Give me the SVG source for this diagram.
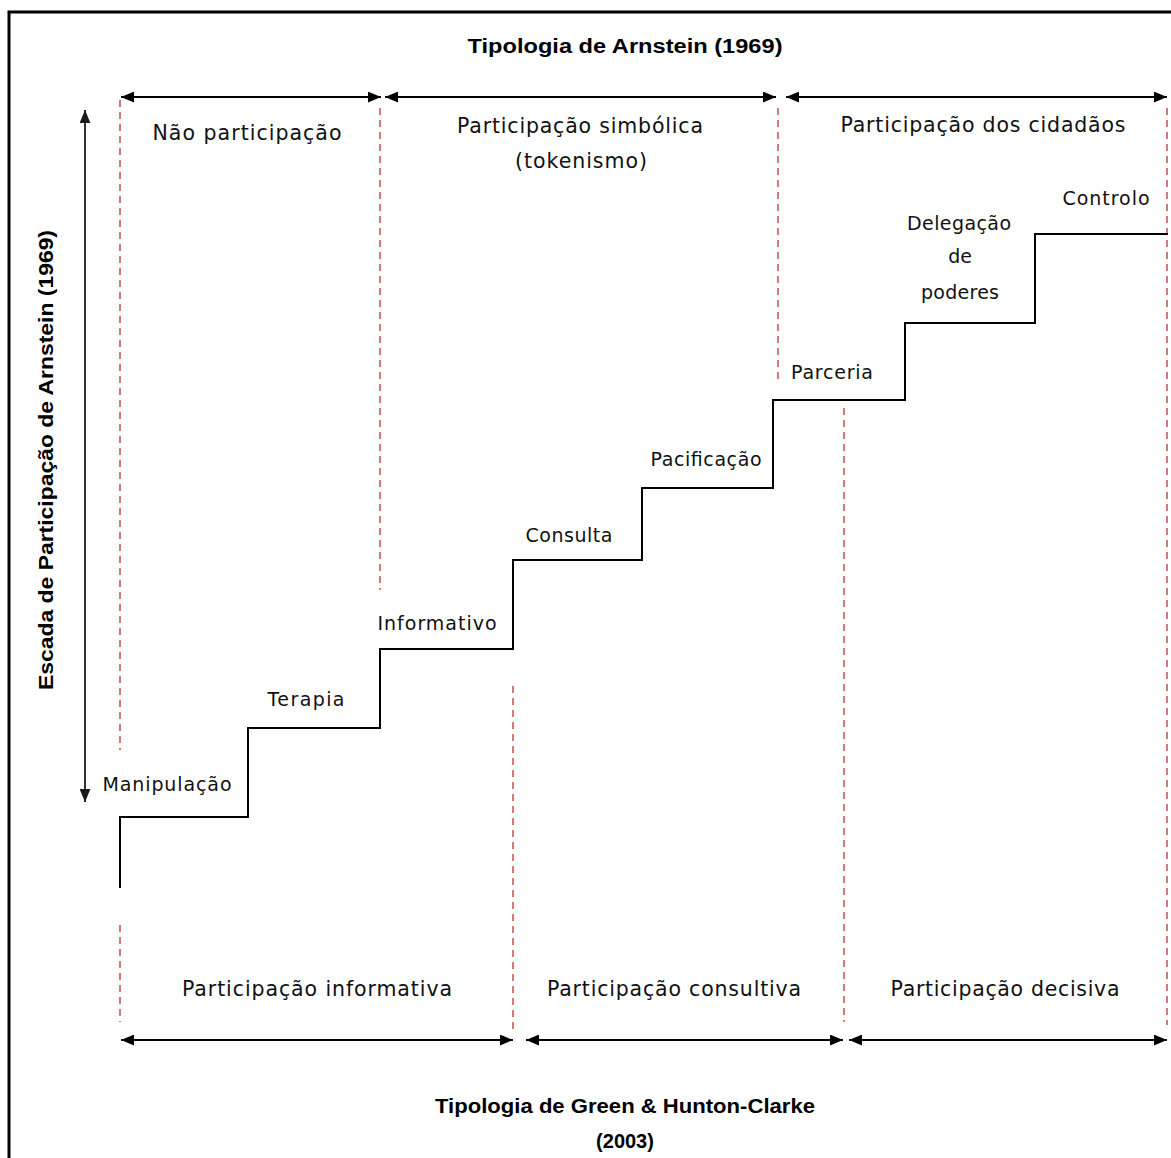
<svg xmlns="http://www.w3.org/2000/svg" width="1171" height="1158" viewBox="0 0 1171 1158">
<defs>
<marker id="ah" viewBox="0 0 12 10" refX="12" refY="5" markerWidth="13" markerHeight="11" markerUnits="userSpaceOnUse" orient="auto-start-reverse">
<path d="M0,0 L12,5 L0,10 Z" fill="#000"/>
</marker>
<marker id="ahg" viewBox="0 0 12 10" refX="12" refY="5" markerWidth="13" markerHeight="11" markerUnits="userSpaceOnUse" orient="auto-start-reverse">
<path d="M0,0 L12,5 L0,10 Z" fill="#1a1a1a"/>
</marker>
</defs>
<style>
.lbl{font-family:"DejaVu Sans","Verdana",sans-serif;font-size:19px;fill:#111;text-anchor:middle}
.big{font-family:"DejaVu Sans","Verdana",sans-serif;font-size:20.5px;fill:#111;text-anchor:middle}
.ttl{font-family:"Liberation Sans","Arial",sans-serif;font-weight:bold;font-size:20px;fill:#000;text-anchor:middle}
.dash{stroke:#d4797a;stroke-width:2;stroke-dasharray:7,5;fill:none}
.arr{stroke:#000;stroke-width:2;fill:none;marker-start:url(#ah);marker-end:url(#ah)}
.step{stroke:#000;stroke-width:2;fill:none}
</style>
<rect x="0" y="0" width="1171" height="1158" fill="#fff"/>
<rect x="9" y="12" width="1175" height="1160" fill="none" stroke="#000" stroke-width="3"/>

<g id="guides">
<line class="dash" x1="120" y1="100" x2="120" y2="750"/>
<line class="dash" x1="120" y1="925" x2="120" y2="1022"/>
<line class="dash" x1="380" y1="108" x2="380" y2="590"/>
<line class="dash" x1="778" y1="108" x2="778" y2="380"/>
<line class="dash" x1="1167" y1="108" x2="1167" y2="1025"/>
<line class="dash" x1="513" y1="686" x2="513" y2="1030"/>
<line class="dash" x1="844" y1="408" x2="844" y2="1022"/>
</g>

<g id="staircase">
<path class="step" d="M120,888 V817 H248 V728 H380 V649 H513 V560 H642 V488 H773 V400 H905 V323 H1035 V234 H1168"/>
</g>

<g id="connectors">
<line class="arr" x1="121" y1="97" x2="381" y2="97"/>
<line class="arr" x1="385" y1="97" x2="776" y2="97"/>
<line class="arr" x1="786" y1="97" x2="1167" y2="97"/>
<line class="arr" x1="121" y1="1040" x2="513" y2="1040"/>
<line class="arr" x1="526" y1="1040" x2="843" y2="1040"/>
<line class="arr" x1="849" y1="1040" x2="1167" y2="1040"/>
<line x1="85" y1="110" x2="85" y2="802" stroke="#333" stroke-width="2" marker-start="url(#ahg)" marker-end="url(#ahg)"/>
</g>

<g id="title-top"><text class="ttl" x="625" y="53" textLength="315" lengthAdjust="spacingAndGlyphs">Tipologia de Arnstein (1969)</text></g>
<g id="title-bottom">
<text class="ttl" x="625" y="1113" textLength="380" lengthAdjust="spacingAndGlyphs">Tipologia de Green &amp; Hunton-Clarke</text>
<text class="ttl" x="625" y="1148">(2003)</text>
</g>
<g id="title-left"><text class="ttl" transform="translate(53,460) rotate(-90)" x="0" y="0" textLength="460" lengthAdjust="spacingAndGlyphs">Escada de Participação de Arnstein (1969)</text></g>

<g id="nao-participacao"><text class="big" x="247" y="140" textLength="189">Não participação</text></g>
<g id="participacao-simbolica">
<text class="big" x="580" y="133" textLength="246">Participação simbólica</text>
<text class="big" x="581" y="168" textLength="132">(tokenismo)</text>
</g>
<g id="participacao-cidadaos"><text class="big" x="983" y="132" textLength="285">Participação dos cidadãos</text></g>

<g id="controlo"><text class="lbl" x="1106" y="205" textLength="87">Controlo</text></g>
<g id="delegacao">
<text class="lbl" x="959" y="230" textLength="104">Delegação</text>
<text class="lbl" x="960" y="263">de</text>
<text class="lbl" x="960" y="299" textLength="78">poderes</text>
</g>
<g id="parceria"><text class="lbl" x="832" y="379" textLength="82">Parceria</text></g>
<g id="pacificacao"><text class="lbl" x="706" y="466" textLength="111">Pacificação</text></g>
<g id="consulta"><text class="lbl" x="569" y="542" textLength="87">Consulta</text></g>
<g id="informativo"><text class="lbl" x="437" y="630" textLength="119">Informativo</text></g>
<g id="terapia"><text class="lbl" x="306" y="706" textLength="77">Terapia</text></g>
<g id="manipulacao"><text class="lbl" x="167" y="791" textLength="129">Manipulação</text></g>

<g id="participacao-informativa"><text class="big" x="317" y="996" textLength="270">Participação informativa</text></g>
<g id="participacao-consultiva"><text class="big" x="674" y="996" textLength="254">Participação consultiva</text></g>
<g id="participacao-decisiva"><text class="big" x="1005" y="996" textLength="229">Participação decisiva</text></g>
</svg>
